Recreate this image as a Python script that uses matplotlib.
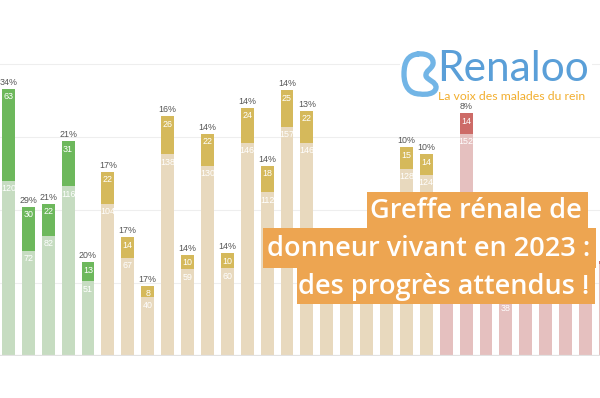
import numpy as np
import matplotlib
matplotlib.use("Agg")
import matplotlib.pyplot as plt
from matplotlib.patches import Rectangle, PathPatch
from matplotlib.path import Path

# greffes par centre : donneur décédé (clair) et donneur vivant (foncé)
deceased = [120, 72, 82, 116, 51, 104, 67, 40, 138, 59, 130, 60, 146, 112, 157, 146,
            53, 45, 68, 73, 128, 124, 70, 152, 85, 38, 60, 70, 48, 55, 63]
living = [63, 30, 22, 31, 13, 22, 14, 8, 26, 10, 22, 10, 24, 18, 25, 22,
          8, 6, 9, 9, 15, 14, 7, 14, 7, 3, 4, 4, 2, 2, 2]
y_ticks = [0, 50, 100, 150, 200]

title_lines = ["Greffe rénale de", "donneur vivant en 2023 :", "des progrès attendus !"]

W, H = 600, 398
fig = plt.figure(figsize=(W / 100, H / 100), dpi=100)

# axes: baseline at 355.5 px from top, 1.458 px per unit, 19.9 px per bar
base_px = 355.5
ax = fig.add_axes([0, (H - base_px) / H, 1, base_px / H])
ax.set_xlim(-8.4 / 19.9, (W - 8.4) / 19.9)
ax.set_ylim(0, base_px / 1.458)
ax.axis("off")

for t in y_ticks[1:]:
    ax.axhline(t, color="#eeeeee", lw=0.8, zorder=0)
ax.axhline(0, color="#e2e2e2", lw=1.6, zorder=3)

# orange title boxes (pixel layout from top-left)
boxes = [(367, 192, 588, 228), (263, 228, 596, 268), (297, 268, 595, 304)]

def hidden(i, val, dy):
    # label sits behind the title boxes or outside the picture
    px, py = ax.transData.transform((i, val))
    py = H - py - dy
    if px > W - 4:
        return True
    return any(x0 - 8 < px < x1 + 8 and y0 - 5 < py < y1 + 2 for x0, y0, x1, y1 in boxes)

dec = np.array(deceased)
liv = np.array(living)
tot = dec + liv
pct = liv / tot * 100
x = np.arange(len(dec))

def colors(p):
    if p >= 20:
        return "#c6dcc1", "#6db85c"
    if p >= 10:
        return "#e8d9be", "#d5b95b"
    return "#e5c0bf", "#cd6b67"

lab_font = dict(family="Liberation Sans", fontsize=6.4)
for i in x:
    light, dark = colors(pct[i])
    ax.bar(i, dec[i], width=0.65, color=light, zorder=2)
    ax.bar(i, liv[i], bottom=dec[i], width=0.65, color=dark, zorder=2)
    if not hidden(i, dec[i], -8):
        ax.annotate(str(dec[i]), (i, dec[i]), xytext=(0, -8), textcoords="offset pixels",
                    ha="center", va="center", color="white", **lab_font)
    if liv[i] >= 5 and not hidden(i, tot[i], -8):
        ax.annotate(str(liv[i]), (i, tot[i]), xytext=(0, -8), textcoords="offset pixels",
                    ha="center", va="center", color="white", **lab_font)
    if not hidden(i, tot[i], 6):
        ax.annotate("%d%%" % round(pct[i]), (i, tot[i]), xytext=(0, 2), textcoords="offset pixels",
                    ha="center", va="bottom", color="#555555", **lab_font)

for (x0, y0, x1, y1), txt in zip(boxes, title_lines):
    fig.add_artist(Rectangle((x0 / W, 1 - y1 / H), (x1 - x0) / W, (y1 - y0) / H,
                             transform=fig.transFigure, color="#eda551", lw=0, zorder=5))
    fig.text((x1 - 6) / W, 1 - ((y0 + y1) / 2 + 1) / H, txt, ha="right", va="center",
             color="white", fontsize=19.5, family="Open Sans", fontweight="semibold", zorder=6)

# logo
fig.add_artist(Rectangle((400 / W, 1 - 102 / H), 192 / W, 62 / H, transform=fig.transFigure,
                         color="white", lw=0, zorder=5))
pts = [(418, 54), (428, 53), (434, 58), (433, 64), (432, 69), (425, 71), (426, 76),
       (427, 80), (437, 82), (436, 88), (435, 94), (426, 95), (420, 94),
       (410, 94), (404, 87), (404, 74), (404, 62), (408, 55), (418, 54)]
codes = [Path.MOVETO] + [Path.CURVE4] * 18
verts = [(px / W, 1 - py / H) for px, py in pts]
fig.add_artist(PathPatch(Path(verts, codes), transform=fig.transFigure, fill=False,
                         edgecolor="#72b5e6", lw=3.8, zorder=6, capstyle="round"))
fig.text(437 / W, 1 - 69 / H, "Renaloo", ha="left", va="center", color="#5a9fd8",
         fontsize=30.5, family="Lato", zorder=6)
fig.text(438 / W, 1 - 96 / H, "La voix des malades du rein", ha="left", va="center",
         color="#f2ae2e", fontsize=8.8, family="Lato", zorder=6)

fig.savefig("out.png", dpi=100)
